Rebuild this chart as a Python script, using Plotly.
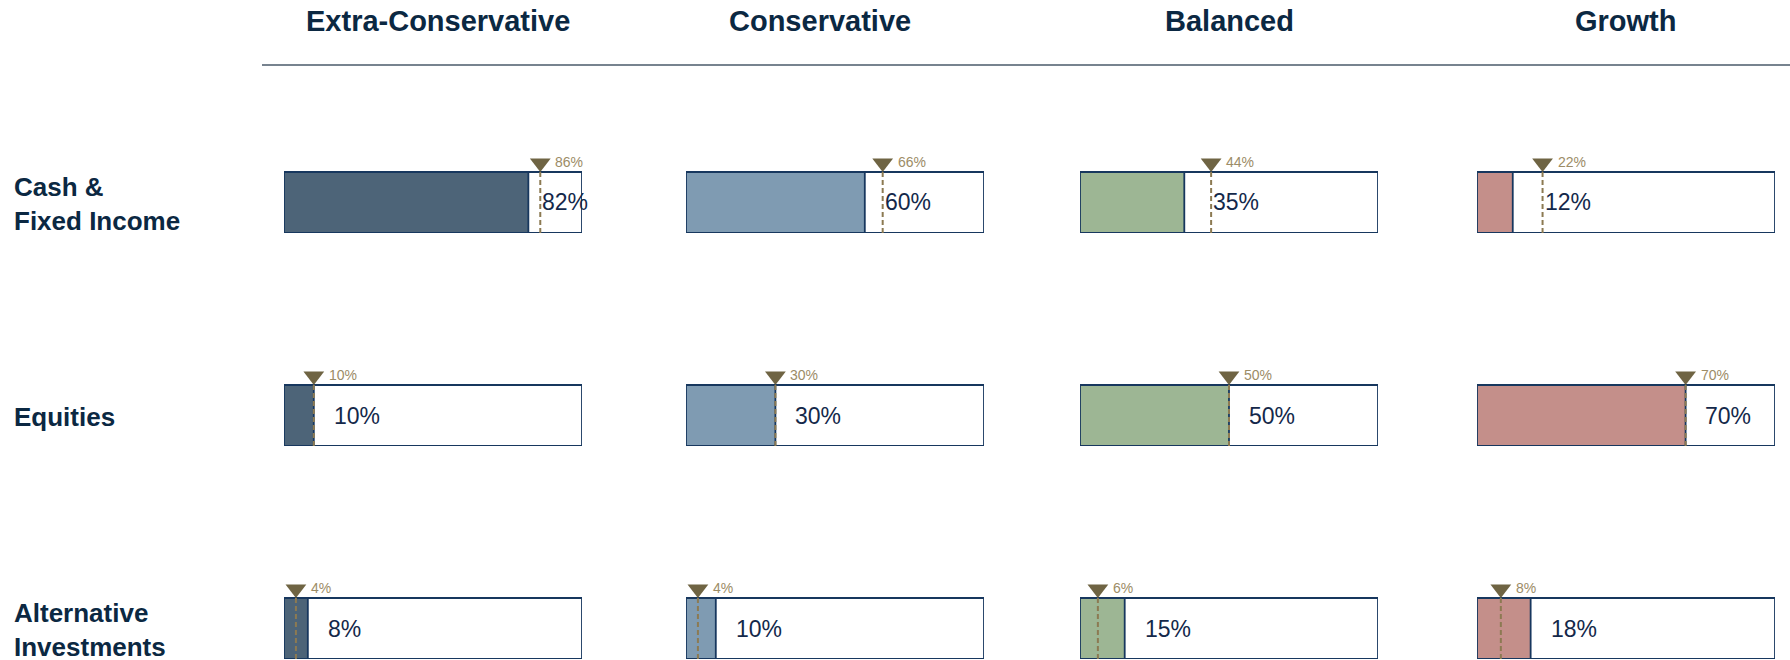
import plotly.graph_objects as go

# ---------------- data ----------------
profiles = ["Extra-Conservative", "Conservative", "Balanced", "Growth"]
asset_classes = ["Cash &<br>Fixed Income", "Equities", "Alternative<br>Investments"]

cash_fixed_income = [82, 60, 35, 12]
equities = [10, 30, 50, 70]
alternatives = [8, 10, 15, 18]

cash_fixed_income_target = [86, 66, 44, 22]
equities_target = [10, 30, 50, 70]
alternatives_target = [4, 4, 6, 8]

scale_max = 100

allocations = [cash_fixed_income, equities, alternatives]
targets = [cash_fixed_income_target, equities_target, alternatives_target]

# ---------------- style / layout ----------------
W, H = 1790, 660
FONT = "Liberation Sans, Arial, sans-serif"
profile_colors = ["#4d6478", "#7f9bb2", "#9db694", "#c48f8a"]
navy = "#17375e"
title_color = "#0b2842"
value_color = "#14284a"
marker_color = "#6f6443"
target_line_color = "#8c7a52"
target_text_color = "#9c8c66"

col_left_px = [284, 686, 1080, 1477]
col_width_px = 298
row_top_px = [172, 385, 598]
row_height_px = 61
head_px = 28          # room above each track for the target marker
title_center_px = [438, 820, 1229, 1626]
tri_size = 18

fig = go.Figure()
layout_axes = {}
annotations = []

for r in range(3):
    for c in range(4):
        idx = r * 4 + c + 1
        xa = "x" if idx == 1 else f"x{idx}"
        ya = "y" if idx == 1 else f"y{idx}"
        xkey = "xaxis" if idx == 1 else f"xaxis{idx}"
        ykey = "yaxis" if idx == 1 else f"yaxis{idx}"
        x0 = col_left_px[c] / W
        x1 = (col_left_px[c] + col_width_px) / W
        y1 = 1 - (row_top_px[r] - head_px) / H
        y0 = 1 - (row_top_px[r] + row_height_px) / H
        y_top = 0.5 + head_px / row_height_px
        layout_axes[xkey] = dict(domain=[x0, x1], range=[0, scale_max], visible=False,
                                 fixedrange=True, anchor=ya)
        layout_axes[ykey] = dict(domain=[max(y0, 0), y1], range=[-0.5, y_top], visible=False,
                                 fixedrange=True, anchor=xa)

        val = allocations[r][c]
        tgt = targets[r][c]

        # background track (100%)
        fig.add_trace(go.Bar(x=[scale_max], y=[0], orientation="h", width=1,
                             marker=dict(color="white", line=dict(color=navy, width=1.8)),
                             xaxis=xa, yaxis=ya, hoverinfo="skip"))
        # allocation bar
        fig.add_trace(go.Bar(x=[val], y=[0], orientation="h", width=1,
                             marker=dict(color=profile_colors[c], line=dict(color=navy, width=1.8)),
                             xaxis=xa, yaxis=ya, hoverinfo="skip"))
        # target dashed line
        fig.add_trace(go.Scatter(x=[tgt, tgt], y=[-0.5, 0.5], mode="lines",
                                 line=dict(color=target_line_color, width=2, dash="5px,3px"),
                                 xaxis=xa, yaxis=ya, hoverinfo="skip", cliponaxis=False))
        # target marker
        fig.add_trace(go.Scatter(x=[tgt], y=[0.5 + (tri_size / 2) / row_height_px], mode="markers",
                                 marker=dict(symbol="triangle-down", size=tri_size, color=marker_color,
                                             line=dict(width=0)),
                                 xaxis=xa, yaxis=ya, hoverinfo="skip", cliponaxis=False))
        # target label
        annotations.append(dict(x=tgt, y=0.5, xref=xa, yref=ya, text=f"{tgt}%", showarrow=False,
                                xanchor="left", yanchor="middle", xshift=13, yshift=10,
                                font=dict(family=FONT, size=14, color=target_text_color)))
        # value label
        label_x = tgt if tgt > val else val + 6
        annotations.append(dict(x=label_x, y=0, xref=xa, yref=ya, text=f"{val}%", showarrow=False,
                                xanchor="left", yanchor="middle",
                                font=dict(family=FONT, size=23, color=value_color)))

# column titles
for c, name in enumerate(profiles):
    annotations.append(dict(x=title_center_px[c] / W, y=1 - 21 / H, xref="paper", yref="paper",
                            text=name, showarrow=False, xanchor="center", yanchor="middle",
                            font=dict(family=FONT, size=29, color=title_color, weight="bold")))

# row labels
for r, name in enumerate(asset_classes):
    yc = 1 - (row_top_px[r] + row_height_px / 2 + 1) / H
    annotations.append(dict(x=12 / W, y=yc, xref="paper", yref="paper", text=name,
                            showarrow=False, xanchor="left", yanchor="middle", align="left",
                            font=dict(family=FONT, size=26, color=title_color, weight="bold")))

fig.update_layout(
    width=W, height=H,
    margin=dict(l=0, r=0, t=0, b=0),
    paper_bgcolor="white", plot_bgcolor="rgba(0,0,0,0)",
    showlegend=False, barmode="overlay",
    annotations=annotations,
    shapes=[dict(type="line", xref="paper", yref="paper", x0=262 / W, x1=1, y0=1 - 65 / H,
                 y1=1 - 65 / H, line=dict(color="#4a5a6a", width=1.5))],
    **layout_axes,
)

fig.write_html("out.html", config={"displayModeBar": False},
               post_script="document.body.style.margin='0';document.body.style.overflow='hidden';")
